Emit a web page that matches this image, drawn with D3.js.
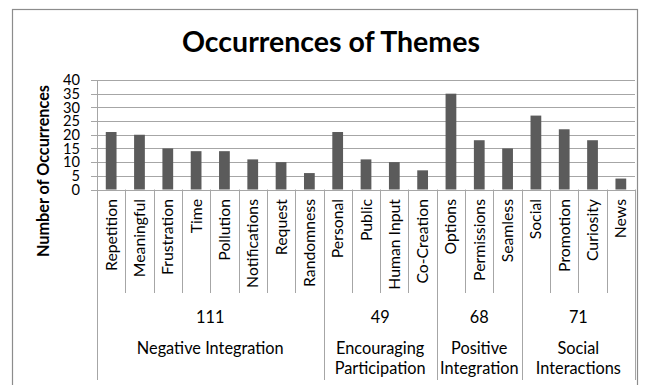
<!DOCTYPE html>
<html>
<head>
<meta charset="utf-8">
<script src="https://cdn.jsdelivr.net/npm/d3@7"></script>
<style>
  html, body { margin: 0; padding: 0; background: #fff; }
  svg { display: block; }
  text { font-family: Lato, "Open Sans", sans-serif; fill: #000; }
</style>
</head>
<body>
<svg id="chart" width="654" height="385"></svg>
<script>
const categories = ["Repetition", "Meaningful", "Frustration", "Time", "Pollution", "Notifications", "Request", "Randomness",
  "Personal", "Public", "Human Input", "Co-Creation",
  "Options", "Permissions", "Seamless",
  "Social", "Promotion", "Curiosity", "News"];
const values = [21, 20, 15, 14, 14, 11, 10, 6,
  21, 11, 10, 7,
  35, 18, 15,
  27, 22, 18, 4];
const groupLabelLines = [["Negative Integration"], ["Encouraging", "Participation"], ["Positive", "Integration"], ["Social", "Interactions"]];
const groupSizes = [8, 4, 3, 4];
const groupTotals = [111, 49, 68, 71];
const yTicks = [0, 5, 10, 15, 20, 25, 30, 35, 40];
const title = "Occurrences of Themes";
const yTitle = "Number of Occurrences";

const svg = d3.select("#chart");
const W = 654, H = 385;
const plotL = 97, plotR = 635, plotT = 80, plotB = 189.5;
const lineColor = "#a6a6a6";

// outer border
svg.append("rect").attr("x", 12.5).attr("y", 9.5).attr("width", 625).attr("height", 400)
  .attr("fill", "none").attr("stroke", "#8c8c8c").attr("stroke-width", 1.2);

const x = d3.scaleBand().domain(categories).range([plotL, plotR]).padding(0);
const y = d3.scaleLinear().domain([0, 40]).range([plotB, plotT]);

// helper: fit font size to target width
function fitSize(text, weight, target) {
  const t = svg.append("text").attr("font-size", 100).attr("font-weight", weight).text(text);
  const w = t.node().getComputedTextLength();
  t.remove();
  return 100 * target / w;
}

// title
const titleSize = fitSize(title, "bold", 298);
svg.append("text").attr("x", 331).attr("y", 52).attr("text-anchor", "middle")
  .attr("font-weight", "bold").attr("font-size", titleSize).text(title);

// gridlines
svg.append("g").selectAll("line").data(yTicks).join("line")
  .attr("x1", plotL - 6).attr("x2", plotR)
  .attr("y1", d => Math.round(y(d)) + 0.5).attr("y2", d => Math.round(y(d)) + 0.5)
  .attr("stroke", lineColor).attr("stroke-width", 1);

// y tick labels
const tickSize = fitSize("40", "normal", 17);
svg.append("g").selectAll("text").data(yTicks).join("text")
  .attr("x", 80).attr("y", d => y(d)).attr("dy", "0.35em").attr("text-anchor", "end")
  .attr("font-size", tickSize).text(d => d);

// y title
const yTitleSize = fitSize(yTitle, "bold", 172);
svg.append("text").attr("transform", "translate(49,171) rotate(-90)")
  .attr("text-anchor", "middle").attr("font-weight", "bold").attr("font-size", yTitleSize).text(yTitle);

// bars
svg.append("g").selectAll("rect").data(categories).join("rect")
  .attr("x", d => x(d) + x.bandwidth() * 0.31)
  .attr("width", x.bandwidth() * 0.38)
  .attr("y", (d, i) => y(values[i]))
  .attr("height", (d, i) => y(0) - y(values[i]))
  .attr("fill", "#5b5b5b");

// left axis line
svg.append("line").attr("x1", plotL + 0.5).attr("x2", plotL + 0.5).attr("y1", plotT).attr("y2", 380)
  .attr("stroke", lineColor);
// bottom axis line
svg.append("line").attr("x1", plotL).attr("x2", plotR).attr("y1", Math.round(plotB) + 0.5).attr("y2", Math.round(plotB) + 0.5)
  .attr("stroke", lineColor);

// separators
const groupStarts = [];
let acc = 0;
groupSizes.forEach(s => { groupStarts.push(acc); acc += s; });
const boundaries = d3.range(1, categories.length + 1);
svg.append("g").selectAll("line").data(boundaries).join("line")
  .attr("x1", i => Math.round(i < categories.length ? x(categories[i]) : plotR) + 0.5)
  .attr("x2", i => Math.round(i < categories.length ? x(categories[i]) : plotR) + 0.5)
  .attr("y1", plotB)
  .attr("y2", i => (groupStarts.includes(i) || i === categories.length) ? 380 : 293)
  .attr("stroke", lineColor);

// category labels
const catSize = fitSize("Notifications", "normal", 89);
svg.append("g").selectAll("text").data(categories).join("text")
  .attr("transform", d => `translate(${x(d) + x.bandwidth() / 2},199) rotate(-90)`)
  .attr("text-anchor", "end").attr("dy", "0.35em").attr("font-size", catSize).text(d => d);

// group labels
const grpSize = fitSize("Negative Integration", "normal", 147);
groupSizes.forEach((s, gi) => {
  const start = groupStarts[gi];
  const x0 = x(categories[start]);
  const x1 = x(categories[start + s - 1]) + x.bandwidth();
  const cx = (x0 + x1) / 2;
  svg.append("text").attr("x", cx).attr("y", 317).attr("dy", "0.35em")
    .attr("text-anchor", "middle").attr("font-size", grpSize).text(groupTotals[gi]);
  groupLabelLines[gi].forEach((ln, li) => {
    svg.append("text").attr("x", cx).attr("y", 348.5 + li * 19.5).attr("dy", "0.35em")
      .attr("text-anchor", "middle").attr("font-size", grpSize).text(ln);
  });
});
</script>
</body>
</html>
